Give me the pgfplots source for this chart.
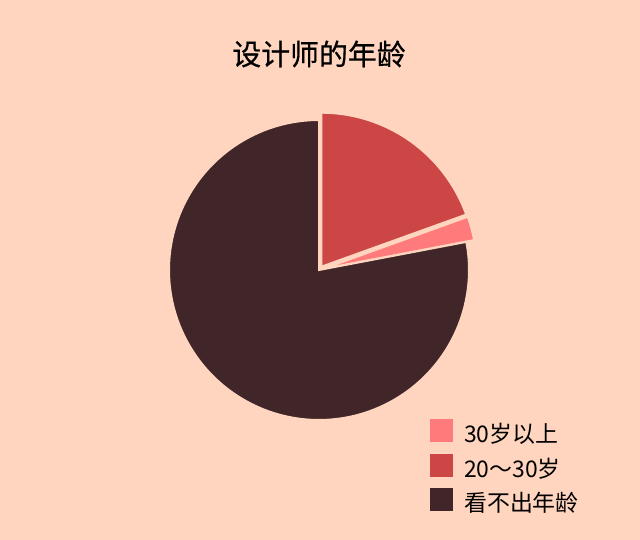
\documentclass[border=0pt]{standalone}
\usepackage{pgfplots}
\pgfplotsset{compat=1.18}
\usepackage{fontspec}
\newfontfamily\cjk{Noto Sans CJK SC}
\newfontfamily\cjkt{Noto Sans CJK SC}[FakeBold=0.6]
\definecolor{bg}{HTML}{FFD5BF}
\definecolor{cpink}{HTML}{FF7B7B}
\definecolor{cred}{HTML}{CC4646}
\definecolor{cdark}{HTML}{402628}

% shares in percent
\def\vRed{19.5}   % 20~30岁
\def\vPink{2.5}   % 30岁以上
\def\vDark{78}    % 看不出年龄

% pie geometry (pixel units)
\def\cx{319}
\def\cy{270}
\def\R{150}
\def\Rx{154}
\pgfmathsetmacro\aA{90}
\pgfmathsetmacro\aB{\aA-3.6*\vRed}
\pgfmathsetmacro\aC{\aB-3.6*\vPink}
\pgfmathsetmacro\aD{\aC-3.6*\vDark}
% exploded offsets along the bisectors
\pgfmathsetmacro\rox{\cx+4*cos((\aA+\aB)/2)}
\pgfmathsetmacro\roy{\cy+4*sin((\aA+\aB)/2)}
\pgfmathsetmacro\pox{\cx+4*cos((\aB+\aC)/2)}
\pgfmathsetmacro\poy{\cy+4*sin((\aB+\aC)/2)}

\begin{document}
\begin{tikzpicture}
\fill[bg] (0,0) rectangle (640bp,540bp);
\begin{axis}[
    scale only axis,
    width=640bp, height=540bp,
    xmin=0, xmax=640, ymin=0, ymax=540,
    hide axis, clip=false,
    legend style={at={(axis cs:430,121)}, anchor=north west,
        draw=none, fill=none, inner sep=0pt,
        font=\cjk\fontsize{23}{26}\selectfont,
        row sep=7bp, legend cell align=left,
        nodes={inner sep=0pt, text height=19bp, text depth=4bp},
        /tikz/every odd column/.append style={column sep=11bp}},
    legend image code/.code={\path[#1, draw=none] (0bp,-7bp) rectangle (23bp,16bp);},
    every axis plot/.append style={draw=bg, line width=2bp, samples=80},
]
\addplot[fill=cpink, domain=\aC:\aB]
    ({\pox+\Rx*cos(x)}, {\poy+\Rx*sin(x)}) -- (axis cs:\pox,\poy) -- cycle;
\addlegendentry{30岁以上}
\addplot[fill=cred, domain=\aB:\aA]
    ({\rox+\Rx*cos(x)}, {\roy+\Rx*sin(x)}) -- (axis cs:\rox,\roy) -- cycle;
\addlegendentry{20～30岁}
\addplot[fill=cdark, domain=\aD:\aC, samples=200]
    ({\cx+\R*cos(x)}, {\cy+\R*sin(x)}) -- (axis cs:\cx,\cy) -- cycle;
\addlegendentry{看不出年龄}

\node[font=\cjkt\fontsize{29}{32}\selectfont] at (axis cs:319,486) {设计师的年龄};
\end{axis}
\end{tikzpicture}
\end{document}
